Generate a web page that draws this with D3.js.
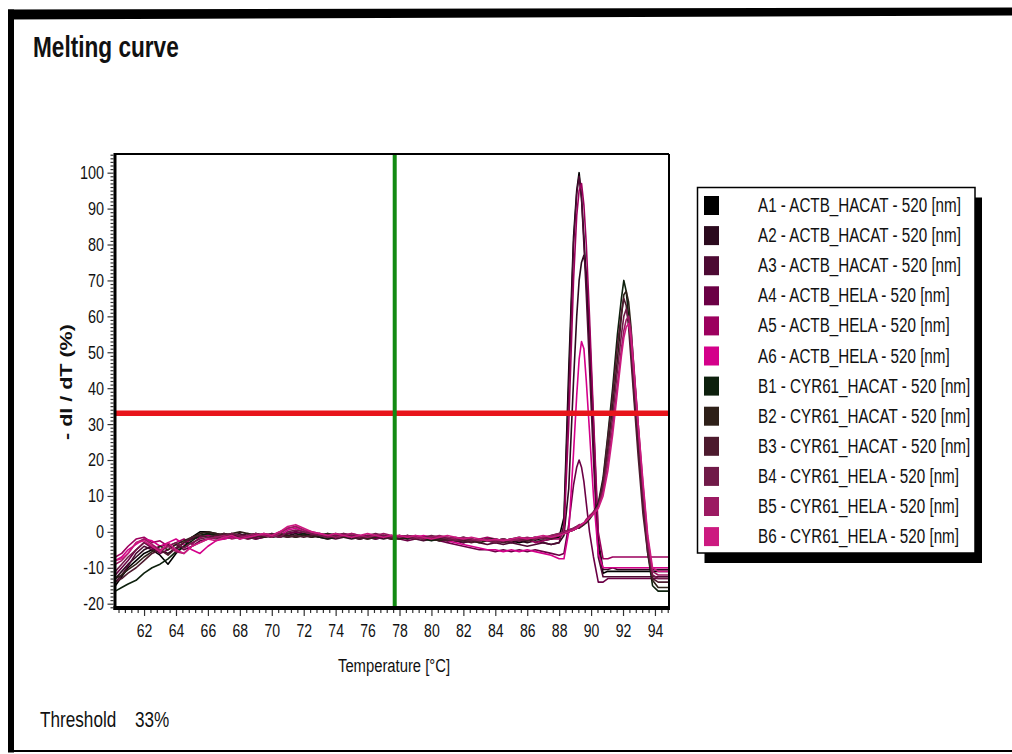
<!DOCTYPE html>
<html>
<head>
<meta charset="utf-8">
<script src="https://cdn.jsdelivr.net/npm/d3@7"></script>
<style>
  body { margin: 0; background: #fff; }
  text { font-family: "Liberation Sans", Arial, sans-serif; fill: #111; }
</style>
</head>
<body>
<div id="chart"></div>
<script>
// Temperature grid (°C) shared by all traces
const temps = [
  60.2, 60.6, 61.0, 61.5, 62.0, 62.5, 63.0, 63.5, 64.0, 64.5, 65.0, 65.5,
  66.0, 66.5, 67.0, 67.5, 68.0, 68.5, 69.0, 69.5, 70.0, 70.5, 71.0, 71.5,
  72.0, 72.5, 73.0, 73.5, 74.0, 74.5, 75.0, 75.5, 76.0, 76.5, 77.0, 77.5,
  78.0, 78.5, 79.0, 79.5, 80.0, 80.5, 81.0, 81.5, 82.0, 82.5, 83.0, 83.5,
  84.0, 84.5, 85.0, 85.5, 86.0, 86.5, 87.0, 87.5, 88.0,
  88.3, 88.6, 88.9, 89.1, 89.25, 89.4, 89.55, 89.7, 89.9, 90.15, 90.45, 90.75,
  91.05, 91.35, 91.65, 91.9, 92.05, 92.2, 92.35, 92.5, 92.7, 92.95, 93.25, 93.55,
  93.85, 94.2, 94.9
];

const seriesNames = [
  "A1 - ACTB_HACAT - 520 [nm]", "A2 - ACTB_HACAT - 520 [nm]", "A3 - ACTB_HACAT - 520 [nm]",
  "A4 - ACTB_HELA - 520 [nm]", "A5 - ACTB_HELA - 520 [nm]", "A6 - ACTB_HELA - 520 [nm]",
  "B1 - CYR61_HACAT - 520 [nm]", "B2 - CYR61_HACAT - 520 [nm]", "B3 - CYR61_HACAT - 520 [nm]",
  "B4 - CYR61_HELA - 520 [nm]", "B5 - CYR61_HELA - 520 [nm]", "B6 - CYR61_HELA - 520 [nm]"
];

const seriesColors = [
  "#000000", "#2b0a1e", "#4d0a33", "#6b0045", "#9c005e", "#d4008a",
  "#0d200d", "#2e2018", "#4d1a2e", "#701a48", "#9c1a62", "#cc1a80"
];

// - dI/dT (%) values, one per temperature
const a1 = [
  -15, -12.5, -10, -8, -6, -5, -6.5, -9, -6, -4, -1.5, 0,
  0, -0.5, -1, -0.5, -1.5, -1, -0.5, -1, -1.5, -1, -0.5, 0,
  -0.5, -1, -1.5, -1, -0.5, -1, -1.5, -1, -1.5, -2, -1.5, -1,
  -1.5, -1, -1.5, -2, -1.5, -2, -2.5, -2, -1.5, -2, -2.5, -2,
  -2.5, -2, -2.5, -3, -2.5, -2, -2.5, -2, -1.5,
  4, 45, 82, 95, 100, 93, 82, 70, 52, 26, -4, -11.5,
  -11, -11, -11, -11, -11, -11, -11, -11, -11, -11, -11, -11, -11, -11, -11
];
const a2 = [
  -13, -11, -9, -7, -5, -4, -5, -6, -4.5, -3, -2, -1,
  -0.5, -1, -1.5, -1, -0.5, -1.5, -2, -1.5, -1, -1.5, -1, -0.5,
  -1, -1.5, -1, -0.5, -1, -1.5, -2, -1.5, -1, -1.5, -2, -1.5,
  -1, -1.5, -2, -1.5, -2, -2.5, -2, -2.5, -3, -2.5, -2, -2.5,
  -3, -2.5, -3, -2.5, -3, -2.5, -3, -3.5, -3,
  -1, 12, 42, 60, 70, 75, 77, 72, 56, 30, -2, -10.5,
  -10.5, -10, -10.5, -10.5, -10.5, -10.5, -10.5, -10.5, -10.5, -10.5, -10.5, -10.5, -10.5, -10.5, -10.5
];
const a3 = [
  -14, -12, -9.5, -6, -4, -5, -4, -3.5, -5, -3, -2, -1.5,
  -1, -0.5, -1, -1.5, -1, -0.5, -1, -1.5, -1, -0.5, -1, -1.5,
  -1, -0.5, -1, -1.5, -2, -1.5, -1, -1.5, -2, -1.5, -1, -1.5,
  -2, -1.5, -2, -2.5, -2, -1.5, -2, -2.5, -3, -2.5, -3, -3.5,
  -3, -3.5, -3, -3.5, -4, -3.5, -3, -3.5, -3,
  2, 40, 80, 94, 99, 93, 80, 66, 46, 20, -7, -12.5,
  -12.5, -12.5, -12.5, -12.5, -12.5, -12.5, -12.5, -12.5, -12.5, -12.5, -12.5, -12.5, -12.5, -12.5, -12.5
];
const a4 = [
  -12, -10, -8, -5, -3, -4.5, -6, -5, -3.5, -5, -4, -2.5,
  -2, -1.5, -2, -1.5, -1, -1.5, -2, -1.5, -1, -1.5, -0.5, 0,
  -0.5, -1, -1.5, -2, -1.5, -1, -1.5, -2, -1.5, -2, -1.5, -2,
  -2, -2.5, -2, -1.5, -2, -2.5, -3, -3.5, -4, -4.5, -5, -5,
  -5.5, -5, -5.5, -5, -5.5, -5, -5.5, -6, -6.5,
  -6, 2, 13, 18, 20, 18, 14, 8, 0, -7, -14, -14,
  -13, -13, -13, -13, -13, -13, -13, -13, -13, -13, -13, -13, -13, -13, -13
];
const a5 = [
  -7, -6, -4, -2, -1.5, -3, -2.5, -4, -3, -2, -3.5, -1.5,
  -1, -1.5, -0.5, -1, -2, -1, -1.5, -0.5, -1, 0, 1, 1.5,
  0.5, -0.5, -1, -1.5, -1, -0.5, -1, -1.5, -1, -1.5, -1, -1.5,
  -1, -1.5, -1, -1.5, -2, -1.5, -2, -1.5, -2, -2.5, -2, -1.5,
  -2, -2.5, -2, -2.5, -2, -3, -2.5, -2, -2,
  0, 30, 70, 88, 95, 97, 91, 80, 60, 32, 0, -7.5,
  -7.5, -7, -7, -7, -7, -7, -7, -7, -7, -7, -7, -7, -7, -7, -7
];
const a6 = [
  -8, -7, -5, -3.5, -2, -2.5, -4, -3, -2, -3.5, -5, -6,
  -4, -2.5, -2, -1.5, -1, -2, -1.5, -1, -0.5, -1, 0.5, 1,
  0, -1, -0.5, -1, -1.5, -1, -0.5, -1, -1.5, -1, -1.5, -1,
  -1.5, -2, -1.5, -1, -1.5, -2, -2.5, -3, -3.5, -4, -4.5, -5,
  -5, -5.5, -5, -5.5, -5, -5.5, -6, -6.5, -7.5,
  -7.5, 0, 22, 38, 48, 53, 51, 42, 28, 10, -6, -10,
  -10, -10, -10, -10, -10, -10, -10, -10, -10, -10, -10, -10, -10, -10, -10
];
const b1 = [
  -16.5, -15.5, -14.5, -13.5, -11.5, -10, -9, -7.5, -5.5, -4, -2.5, -1,
  -0.5, -1, -0.5, -1, -1.5, -1, -0.5, -1, -1.5, -1, -1.5, -1,
  -0.5, -1, -1.5, -2, -1.5, -1, -1.5, -2, -1.5, -1, -1.5, -2,
  -1.5, -2, -1.5, -2, -2.5, -2, -1.5, -2, -2.5, -2, -2.5, -2,
  -2, -2.5, -2, -1.5, -2, -1.5, -2, -1, -0.5,
  0, 0.5, 1, 1.5, 1.5, 2, 2.5, 3, 4, 5.5, 8,
  15, 27, 40, 55, 65, 70, 67, 60, 51, 38, 24, 8, -6, -15, -16.5, -16.5
];
const b2 = [
  -13, -12, -10.5, -9, -7, -5.5, -4, -5, -3.5, -2.5, -1.5, -0.5,
  0, -0.5, -1, -0.5, 0, -0.5, -1, -1.5, -1, -0.5, -1, -1.5,
  -1, -1.5, -1, -0.5, -1, -1.5, -1, -1.5, -2, -1.5, -1, -1.5,
  -2, -1.5, -2, -1.5, -2, -2.5, -2, -2.5, -2, -2.5, -3, -2.5,
  -2.5, -2, -2.5, -2, -2.5, -2, -1.5, -1.5, -1,
  -0.5, 0, 0.5, 1, 1.5, 1.5, 2, 2.5, 3.5, 5, 7,
  13, 23, 35, 48, 60, 66, 67, 64, 57, 44, 29, 11, -4, -13.5, -15.5, -15.5
];
const b3 = [
  -14, -13, -11.5, -10, -8, -6, -5, -6.5, -4.5, -3, -1.5, -1,
  -1.5, -1, -0.5, -1, -1.5, -2, -1.5, -1, -0.5, -1, -1.5, -1,
  -1.5, -1, -0.5, -1, -1.5, -1, -1.5, -2, -1.5, -1, -1.5, -2,
  -1.5, -1, -1.5, -2, -1.5, -2, -2.5, -2, -2.5, -3, -2.5, -2,
  -2.5, -3, -2.5, -2, -2.5, -2, -1.5, -2, -1,
  -0.5, 0, 0.5, 1, 1, 1.5, 2, 3, 4, 5, 7.5,
  14, 26, 38, 52, 61, 65, 63, 57, 48, 36, 21, 5, -6, -13, -14, -14
];
const b4 = [
  -11, -9, -7, -5, -3, -4, -5.5, -4, -3, -4.5, -3, -2,
  -1.5, -2, -1, -0.5, -1, -1.5, -1, -0.5, -1, -1.5, 0, 0.5,
  0, -0.5, -1, -1.5, -1, -0.5, -1, -1.5, -1, -0.5, -1, -1.5,
  -1, -1.5, -2, -1.5, -1, -1.5, -2, -2.5, -2, -2.5, -2, -2.5,
  -3, -2.5, -2, -2.5, -2, -1.5, -2, -1.5, -1,
  -0.5, 0, 0.5, 1, 1.5, 2, 2.5, 3, 4, 5.5, 7,
  12, 21, 32, 45, 55, 60, 62, 59, 52, 41, 27, 10, -4, -12, -13, -13
];
const b5 = [
  -9, -8, -6, -3, -2, -3.5, -5, -4, -5.5, -6, -4, -3,
  -2, -1.5, -1, -2, -1.5, -1, -0.5, -1, -1.5, -0.5, 1, 1.5,
  0.5, 0, -0.5, -1, -1.5, -1, -0.5, -1, -1.5, -1, -0.5, -1,
  -1.5, -1, -1.5, -2, -1.5, -1, -1.5, -2, -1.5, -2, -2.5, -2,
  -2.5, -2, -2.5, -2, -1.5, -2, -1.5, -1, -0.5,
  0, 0.5, 1, 1.5, 2, 2, 2.5, 3.5, 4.5, 5.5, 7,
  11, 19, 29, 41, 51, 56, 59, 60, 56, 45, 30, 13, -2, -11, -12, -12
];
const b6 = [
  -8, -7.5, -6, -3, -2.5, -4, -5.5, -3, -5, -6, -4, -3,
  -2, -2.5, -1.5, -1, -2, -1.5, -1, -0.5, -1, 0, 1.5, 2,
  1, 0, -0.5, -1, -0.5, -1, -1.5, -1, -0.5, -1, -1.5, -1,
  -1, -1.5, -1, -1.5, -2, -1.5, -1, -1.5, -2, -1.5, -2, -2.5,
  -2, -2.5, -2, -1.5, -2, -1.5, -1, -1.5, -1,
  -0.5, 0, 0.5, 1, 1.5, 2, 2.5, 3, 4, 5, 6.5,
  10, 17, 27, 39, 49, 54, 57, 58, 54, 44, 30, 14, -1, -10, -11, -11
];
const seriesValues = [a1, a2, a3, a4, a5, a6, b1, b2, b3, b4, b5, b6];

// Axis ticks and markers
const xMajorTicks = [62, 64, 66, 68, 70, 72, 74, 76, 78, 80, 82, 84, 86, 88, 90, 92, 94];
const yMajorTicks = [-20, -10, 0, 10, 20, 30, 40, 50, 60, 70, 80, 90, 100];
const thresholdValue = 33;
const cursorTemp = 77.7;

const SX = 0.78; // the original picture is squeezed horizontally
const W = 1012, H = 754;
const plot = {left: 115, right: 669, top: 154, bottom: 608};

const svg = d3.select("#chart").append("svg")
    .attr("width", W)
    .attr("height", H);

svg.append("rect").attr("width", W).attr("height", H).attr("fill", "#fff");

// Frame around the whole picture
svg.append("polygon")
    .attr("points", "8,9.5 1012,7.5 1012,15.5 8,19.5")
    .attr("fill", "#000");
svg.append("rect").attr("x", 8).attr("y", 9.5).attr("width", 6).attr("height", 743).attr("fill", "#000");
svg.append("rect").attr("x", 8).attr("y", 750).attr("width", 1004).attr("height", 2).attr("fill", "#000");

function addText(x, y, str, size, opts = {}) {
    return svg.append("text")
        .attr("transform", `translate(${x},${y}) scale(${SX},1)` + (opts.rotate ? ` rotate(${opts.rotate})` : ""))
        .attr("font-size", size)
        .attr("font-weight", opts.bold ? "bold" : "normal")
        .attr("text-anchor", opts.anchor || "start")
        .text(str);
}

addText(33, 57, "Melting curve", 29, {bold: true});

// Scales
const x = d3.scaleLinear().domain([60.18, 94.88]).range([plot.left, plot.right]);
const y = d3.scaleLinear().domain([-21.2, 105.2]).range([plot.bottom, plot.top]);

// Y axis (major + minor)
const yMinor = d3.range(-21, 106, 1).filter(v => v % 10 !== 0);
svg.append("g")
    .attr("transform", `translate(${plot.left - 1.5},0)`)
    .call(d3.axisLeft(y).tickValues(yMinor).tickSize(3).tickFormat(""))
    .call(g => g.select(".domain").remove());
const yAxis = svg.append("g")
    .attr("transform", `translate(${plot.left - 1.5},0)`)
    .call(d3.axisLeft(y).tickValues(yMajorTicks).tickSize(6).tickPadding(6).tickFormat(d => String(d)))
    .call(g => g.select(".domain").remove());
yAxis.selectAll("text")
    .attr("font-size", 18.5)
    .attr("font-family", "'Liberation Sans', Arial, sans-serif")
    .attr("fill", "#222")
    .attr("transform", `scale(${SX},1)`);

// X axis (major + minor)
const xMinor = d3.range(60.4, 94.9, 0.4).map(v => Math.round(v * 10) / 10)
    .filter(v => Math.abs(v / 2 - Math.round(v / 2)) > 0.01);
svg.append("g")
    .attr("transform", `translate(0,${plot.bottom + 2})`)
    .call(d3.axisBottom(x).tickValues(xMinor).tickSize(3).tickFormat(""))
    .call(g => g.select(".domain").remove());
const xAxis = svg.append("g")
    .attr("transform", `translate(0,${plot.bottom + 2})`)
    .call(d3.axisBottom(x).tickValues(xMajorTicks).tickSize(6).tickPadding(8))
    .call(g => g.select(".domain").remove());
xAxis.selectAll("text")
    .attr("font-size", 19)
    .attr("font-family", "'Liberation Sans', Arial, sans-serif")
    .attr("fill", "#222")
    .attr("transform", `scale(0.74,1)`);
svg.selectAll(".tick line").attr("stroke", "#333").attr("stroke-width", 1.2);

// Axis titles
addText(394, 672, "Temperature [°C]", 19, {anchor: "middle"});
addText(72, 382, "- dI / dT  (%)", 21.5, {anchor: "middle", bold: true, rotate: -90});

// Curves
svg.append("clipPath").attr("id", "clip")
    .append("rect")
    .attr("x", plot.left).attr("y", plot.top)
    .attr("width", plot.right - plot.left).attr("height", plot.bottom - plot.top);

const line = d3.line()
    .x((d, i) => x(temps[i]))
    .y(d => y(d));

svg.append("g")
    .attr("clip-path", "url(#clip)")
    .selectAll("path")
    .data(seriesValues.map((v, i) => ({values: v, color: seriesColors[i]})))
    .join("path")
    .attr("fill", "none")
    .attr("stroke", d => d.color)
    .attr("stroke-width", 1.6)
    .attr("stroke-linejoin", "round")
    .attr("d", d => line(d.values));

// Threshold line and cursor
svg.append("line")
    .attr("x1", plot.left).attr("x2", plot.right)
    .attr("y1", y(thresholdValue)).attr("y2", y(thresholdValue))
    .attr("stroke", "#e8141b").attr("stroke-width", 5.5);
svg.append("line")
    .attr("x1", x(cursorTemp)).attr("x2", x(cursorTemp))
    .attr("y1", plot.top).attr("y2", plot.bottom)
    .attr("stroke", "#128a12").attr("stroke-width", 4);

// Plot frame
svg.append("line").attr("x1", plot.left).attr("x2", plot.right).attr("y1", plot.top).attr("y2", plot.top)
    .attr("stroke", "#000").attr("stroke-width", 2);
svg.append("line").attr("x1", plot.right).attr("x2", plot.right).attr("y1", plot.top).attr("y2", plot.bottom)
    .attr("stroke", "#000").attr("stroke-width", 2);
svg.append("line").attr("x1", plot.left).attr("x2", plot.left).attr("y1", plot.top - 1).attr("y2", plot.bottom + 2)
    .attr("stroke", "#000").attr("stroke-width", 3);
svg.append("line").attr("x1", plot.left - 1.5).attr("x2", plot.right + 1).attr("y1", plot.bottom).attr("y2", plot.bottom)
    .attr("stroke", "#000").attr("stroke-width", 4);

// Legend
const legend = {x: 697.5, y: 187.5, w: 277.5, h: 365.5, row0: 205.5, step: 30.1};
svg.append("rect")
    .attr("x", legend.x + 7).attr("y", legend.y + 10)
    .attr("width", legend.w).attr("height", legend.h)
    .attr("fill", "#000");
svg.append("rect")
    .attr("x", legend.x).attr("y", legend.y)
    .attr("width", legend.w).attr("height", legend.h)
    .attr("fill", "#fff").attr("stroke", "#000").attr("stroke-width", 1.5);

seriesNames.forEach((name, i) => {
    const cy = legend.row0 + i * legend.step;
    svg.append("rect")
        .attr("x", 704).attr("y", cy - 9.5)
        .attr("width", 15).attr("height", 19)
        .attr("fill", seriesColors[i]);
    addText(758, cy + 6.5, name, 19.5);
});

// Threshold note
addText(40, 727, "Threshold", 22);
addText(135, 727, "33%", 22);
</script>
</body>
</html>
